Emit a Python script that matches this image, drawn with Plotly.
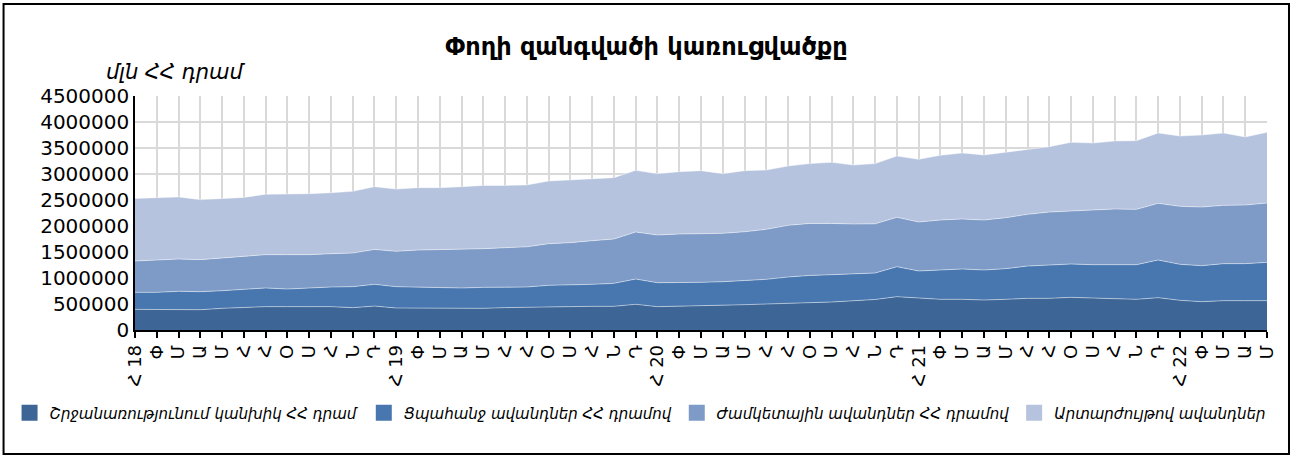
import plotly.graph_objects as go

# Month tick labels (Jan 2018 .. May 2022)
year_months = ["Փ", "Մ", "Ա", "Մ", "Հ", "Հ", "Օ", "Ս", "Հ", "Ն", "Դ"]
tick_labels = (["Հ 18"] + year_months + ["Հ 19"] + year_months + ["Հ 20"] + year_months +
               ["Հ 21"] + year_months + ["Հ 22", "Փ", "Մ", "Ա", "Մ"])

series_names = [
    "Շրջանառությունում կանխիկ ՀՀ դրամ",
    "Ցպահանջ ավանդներ ՀՀ դրամով",
    "Ժամկետային ավանդներ ՀՀ դրամով",
    "Արտարժույթով ավանդներ",
]

cash_amd = [397000, 390000, 390000, 390000, 417000, 436000, 449000, 449000, 449000, 449000, 430000, 460000,
            423000, 423000, 413000, 410000, 417000, 430000, 436000, 455000, 455000, 455000, 455000, 494000,
            449000, 455000, 468000, 480000, 487000, 500000, 519000, 526000, 538000, 564000, 587000, 641000,
            609000, 590000, 590000, 577000, 590000, 609000, 609000, 628000, 615000, 609000, 590000, 622000,
            571000, 545000, 564000, 564000, 564000]
demand_amd = [327000, 334000, 354000, 347000, 339000, 346000, 359000, 339000, 359000, 378000, 403000, 418000,
              410000, 404000, 414000, 398000, 403000, 397000, 391000, 404000, 410000, 423000, 442000, 486000,
              461000, 455000, 449000, 449000, 463000, 474000, 500000, 524000, 526000, 513000, 509000, 577000,
              526000, 564000, 583000, 577000, 590000, 621000, 647000, 641000, 641000, 647000, 666000, 724000,
              692000, 692000, 712000, 712000, 737000]
time_amd = [603000, 622000, 621000, 616000, 629000, 628000, 641000, 661000, 641000, 641000, 647000, 672000,
            680000, 711000, 717000, 742000, 744000, 756000, 773000, 801000, 815000, 840000, 853000, 905000,
            917000, 936000, 929000, 930000, 940000, 962000, 994000, 1000000, 986000, 961000, 946000, 949000,
            942000, 961000, 962000, 961000, 980000, 994000, 1013000, 1026000, 1052000, 1071000, 1064000, 1090000,
            1115000, 1128000, 1121000, 1128000, 1141000]
fx_deposits = [1203000, 1194000, 1195000, 1153000, 1141000, 1140000, 1161000, 1161000, 1171000, 1172000, 1187000, 1206000,
               1197000, 1199000, 1193000, 1206000, 1216000, 1197000, 1190000, 1205000, 1205000, 1199000, 1180000, 1185000,
               1179000, 1199000, 1218000, 1147000, 1174000, 1141000, 1141000, 1150000, 1174000, 1135000, 1158000, 1179000,
               1205000, 1244000, 1269000, 1250000, 1263000, 1250000, 1257000, 1314000, 1288000, 1308000, 1321000, 1352000,
               1353000, 1385000, 1391000, 1308000, 1359000]

colors = ["#3d6595", "#4877b0", "#7e9bc7", "#b5c3de"]

W, H = 1293, 457
L, R, T, B = 134.5, 1267.0, 96.0, 330.0
pw, ph = R - L, B - T


def px_x(x):
    return (x - L) / pw


def px_y(y):
    return (B - y) / ph


x = list(range(len(tick_labels)))
fig = go.Figure()
for name, vals, col in zip(series_names, [cash_amd, demand_amd, time_amd, fx_deposits], colors):
    fig.add_trace(go.Scatter(
        x=x, y=vals, name=name, stackgroup="one", mode="lines",
        line=dict(width=1, color="rgba(255,255,255,0.45)"),
        fillcolor=col, showlegend=False, hoverinfo="skip",
    ))
for name, col in zip(series_names, colors):
    fig.add_trace(go.Scatter(
        x=[None], y=[None], name=name, mode="markers",
        marker=dict(symbol="square", size=16, color=col),
    ))

base_font = "DejaVu Sans, sans-serif"

fig.update_layout(
    width=W, height=H,
    margin=dict(l=L, r=W - R, t=T, b=H - B, autoexpand=False),
    paper_bgcolor="white", plot_bgcolor="white",
    font=dict(family=base_font, color="black", size=18),
    showlegend=True,
    legend=dict(
        orientation="h", x=px_x(9), xanchor="left", y=px_y(413), yanchor="middle",
        font=dict(family=base_font, size=15, style="italic"),
        traceorder="normal", itemwidth=30, bgcolor="rgba(0,0,0,0)",
    ),
    title=dict(
        text="<b>Փողի զանգվածի կառուցվածքը</b>", x=0.5, xref="container", xanchor="center",
        y=1 - 47 / H, yref="container", yanchor="middle",
        font=dict(family=base_font, size=24, color="black"),
    ),
    annotations=[dict(
        text="<i>մլն ՀՀ դրամ</i>", xref="paper", yref="paper",
        x=px_x(103), y=px_y(72), xanchor="left", yanchor="middle",
        showarrow=False, font=dict(family=base_font, size=21, color="black"),
    )],
    shapes=[dict(
        type="rect", xref="paper", yref="paper",
        x0=px_x(3), x1=px_x(1289), y0=px_y(4), y1=px_y(454),
        line=dict(color="black", width=2), fillcolor="rgba(0,0,0,0)", layer="above",
    )],
)

fig.update_xaxes(
    range=[0, len(x) - 1], tickmode="array", tickvals=x, ticktext=tick_labels,
    tickangle=-90, ticks="outside", ticklen=6, tickcolor="black", tickwidth=1.5,
    showline=True, linecolor="black", linewidth=1.5,
    showgrid=True, gridcolor="#d9d9d9", gridwidth=1.5,
    tickfont=dict(family=base_font, size=18, color="black"), zeroline=False,
)
fig.update_yaxes(
    range=[0, 4500000], dtick=500000, tick0=0, tickformat="d",
    showline=True, linecolor="black", linewidth=1.5,
    showgrid=True, gridcolor="#d9d9d9", gridwidth=1.5,
    tickfont=dict(family=base_font, size=20, color="black"), zeroline=False,
)

fig.write_html("out.html", config={"displayModeBar": False},
               post_script="document.body.style.margin='0';")
